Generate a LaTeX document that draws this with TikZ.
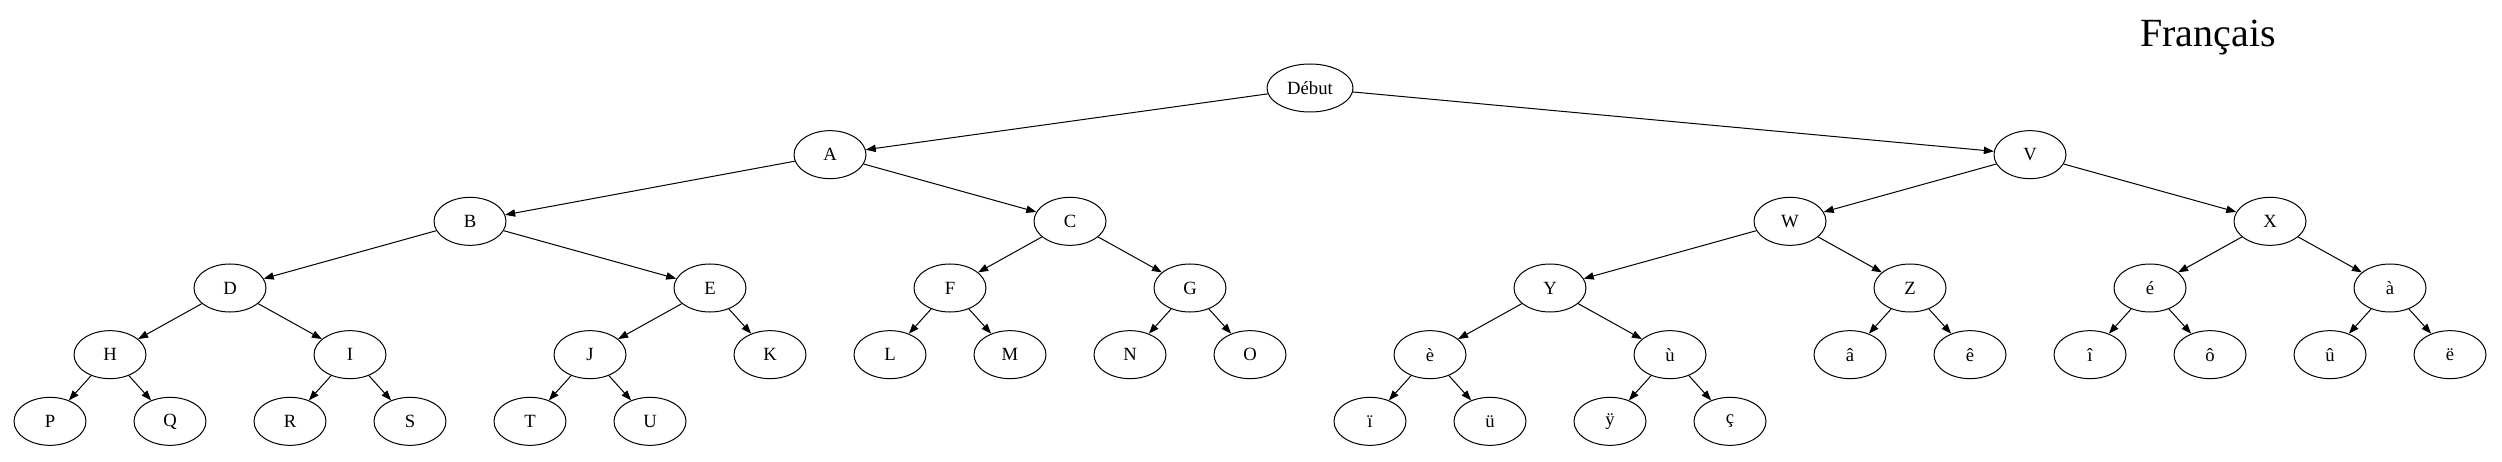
\documentclass[tikz,border=0pt]{standalone}
\usepackage{fontspec}
\setmainfont{Liberation Serif}
\usepackage{tikz}
\usetikzlibrary{shapes.geometric, arrows.meta, positioning}

\begin{document}
\begin{tikzpicture}[
    % --- node styles ---
    nd/.style={ellipse, draw=black, line width=0.75pt, minimum width=54pt,
        minimum height=36pt, inner sep=0pt, text centered,
        font=\fontsize{14}{16}\selectfont},
    root/.style={nd, minimum width=64.5pt},
    ttl/.style={font=\fontsize{30}{34}\selectfont, anchor=base},
    % --- arrow style ---
    arr/.style={-{Triangle[length=7.5pt, width=5.5pt]}, line width=0.75pt},
    on grid
]
\useasboundingbox (0,0) rectangle (1876.5pt,345.75pt);

%%% ================= TITRE =================
\node (titre) [ttl] at (1656pt,310.7pt) {Français};

%%% ================= NIVEAU 0 =================
\node (debut) [root] at (982.5pt,279.75pt) {Début};

%%% ================= NIVEAU 1 =================
\node (A) [nd, below left=50pt and 360pt of debut] {A};
\node (V) [nd, below right=50pt and 540pt of debut] {V};

%%% ================= NIVEAU 2 =================
\node (B) [nd, below left=50pt and 270pt of A] {B};
\node (C) [nd, below right=50pt and 180pt of A] {C};
\node (W) [nd, below left=50pt and 180pt of V] {W};
\node (X) [nd, below right=50pt and 180pt of V] {X};

%%% ================= NIVEAU 3 =================
\node (D) [nd, below left=50pt and 180pt of B] {D};
\node (E) [nd, below right=50pt and 180pt of B] {E};
\node (F) [nd, below left=50pt and 90pt of C] {F};
\node (G) [nd, below right=50pt and 90pt of C] {G};
\node (Y) [nd, below left=50pt and 180pt of W] {Y};
\node (Z) [nd, below right=50pt and 90pt of W] {Z};
\node (eaigu) [nd, below left=50pt and 90pt of X] {é};
\node (agrave) [nd, below right=50pt and 90pt of X] {à};

%%% ================= NIVEAU 4 =================
\node (H) [nd, below left=50pt and 90pt of D] {H};
\node (I) [nd, below right=50pt and 90pt of D] {I};
\node (J) [nd, below left=50pt and 90pt of E] {J};
\node (K) [nd, below right=50pt and 45pt of E] {K};
\node (L) [nd, below left=50pt and 45pt of F] {L};
\node (M) [nd, below right=50pt and 45pt of F] {M};
\node (N) [nd, below left=50pt and 45pt of G] {N};
\node (O) [nd, below right=50pt and 45pt of G] {O};
\node (egrave) [nd, below left=50pt and 90pt of Y] {è};
\node (ugrave) [nd, below right=50pt and 90pt of Y] {ù};
\node (acirc) [nd, below left=50pt and 45pt of Z] {â};
\node (ecirc) [nd, below right=50pt and 45pt of Z] {ê};
\node (icirc) [nd, below left=50pt and 45pt of eaigu] {î};
\node (ocirc) [nd, below right=50pt and 45pt of eaigu] {ô};
\node (ucirc) [nd, below left=50pt and 45pt of agrave] {û};
\node (etrema) [nd, below right=50pt and 45pt of agrave] {ë};

%%% ================= NIVEAU 5 =================
\node (P) [nd, below left=50pt and 45pt of H] {P};
\node (Q) [nd, below right=50pt and 45pt of H] {Q};
\node (R) [nd, below left=50pt and 45pt of I] {R};
\node (S) [nd, below right=50pt and 45pt of I] {S};
\node (T) [nd, below left=50pt and 45pt of J] {T};
\node (U) [nd, below right=50pt and 45pt of J] {U};
\node (itrema) [nd, below left=50pt and 45pt of egrave] {ï};
\node (utrema) [nd, below right=50pt and 45pt of egrave] {ü};
\node (ytrema) [nd, below left=50pt and 45pt of ugrave] {ÿ};
\node (cced) [nd, below right=50pt and 45pt of ugrave] {ç};

%%% ================= FLECHES =================
\draw [arr] (debut) -- (A);
\draw [arr] (debut) -- (V);
\draw [arr] (A) -- (B);
\draw [arr] (A) -- (C);
\draw [arr] (V) -- (W);
\draw [arr] (V) -- (X);
\draw [arr] (B) -- (D);
\draw [arr] (B) -- (E);
\draw [arr] (C) -- (F);
\draw [arr] (C) -- (G);
\draw [arr] (W) -- (Y);
\draw [arr] (W) -- (Z);
\draw [arr] (X) -- (eaigu);
\draw [arr] (X) -- (agrave);
\draw [arr] (D) -- (H);
\draw [arr] (D) -- (I);
\draw [arr] (E) -- (J);
\draw [arr] (E) -- (K);
\draw [arr] (F) -- (L);
\draw [arr] (F) -- (M);
\draw [arr] (G) -- (N);
\draw [arr] (G) -- (O);
\draw [arr] (Y) -- (egrave);
\draw [arr] (Y) -- (ugrave);
\draw [arr] (Z) -- (acirc);
\draw [arr] (Z) -- (ecirc);
\draw [arr] (eaigu) -- (icirc);
\draw [arr] (eaigu) -- (ocirc);
\draw [arr] (agrave) -- (ucirc);
\draw [arr] (agrave) -- (etrema);
\draw [arr] (H) -- (P);
\draw [arr] (H) -- (Q);
\draw [arr] (I) -- (R);
\draw [arr] (I) -- (S);
\draw [arr] (J) -- (T);
\draw [arr] (J) -- (U);
\draw [arr] (egrave) -- (itrema);
\draw [arr] (egrave) -- (utrema);
\draw [arr] (ugrave) -- (ytrema);
\draw [arr] (ugrave) -- (cced);

\end{tikzpicture}
\end{document}
